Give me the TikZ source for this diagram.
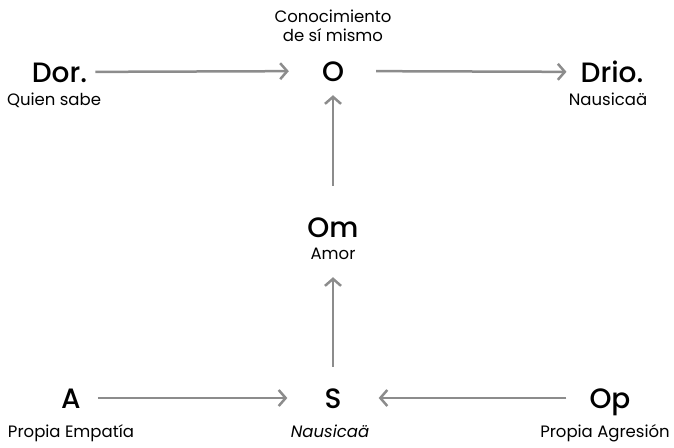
\documentclass[tikz,border=0pt]{standalone}
\usepackage{fontspec}
\setmainfont{Poppins}
\newfontfamily\headfont{Poppins Medium}
\usetikzlibrary{arrows.meta}
\definecolor{arrowgray}{HTML}{8C8C8C}
\tikzset{
  big/.style={font=\fontsize{28}{28}\selectfont\headfont, inner sep=0pt,
    text height=20pt, text depth=0pt, anchor=base},
  small/.style={font=\fontsize{16.5}{16.5}\selectfont, inner sep=0pt, anchor=base},
  link/.style={draw=arrowgray, line width=2.5pt,
    -{Straight Barb[length=7pt,width=16pt]}}
}
\begin{document}
\begin{tikzpicture}[x=10pt,y=10pt]
\useasboundingbox (0,0) rectangle (67.4,-44.7);
% top row
\node[big] (dor) at (5.95,-8.2) {Dor.};
\node[small] (dorsub) at (5.4,-10.5) {Quien sabe};
\node[small] (otext1) at (33.3,-2.3) {Conocimiento};
\node[small] (otext2) at (33.3,-4.1) {de sí mismo};
\node[big] (o) at (33.3,-8.1) {O};
\node[big] (drio) at (61.2,-8.2) {Drio.};
\node[small] (driosub) at (60.8,-10.5) {Nausicaä};
% middle
\node[big] (om) at (33.3,-23.7) {Om};
\node[small] (omsub) at (33.3,-25.9) {Amor};
% bottom row
\node[big] (a) at (7.1,-40.8) {A};
\node[small] (asub) at (7.1,-43.7) {Propia Empatía};
\node[big] (s) at (33.3,-40.8) {S};
\node[small, font=\fontsize{16.5}{16.5}\selectfont\itshape] (ssub) at (33.0,-43.7) {Nausicaä};
\node[big] (op) at (61.0,-40.8) {Op};
\node[small] (opsub) at (60.5,-43.7) {Propia Agresión};
% connectors
\draw[link, shorten <=8pt, shorten >=33pt] (dor) -- (o);
\draw[link, shorten <=32pt, shorten >=14pt] (o) -- (drio);
\draw[link, shorten <=31pt, shorten >=14pt] (om) -- (o);
\draw[link, shorten <=21pt, shorten >=40pt] (s) -- (om);
\draw[link, shorten <=17pt, shorten >=37pt] (a) -- (s);
\draw[link, shorten <=23pt, shorten >=37pt] (op) -- (s);
\end{tikzpicture}
\end{document}
